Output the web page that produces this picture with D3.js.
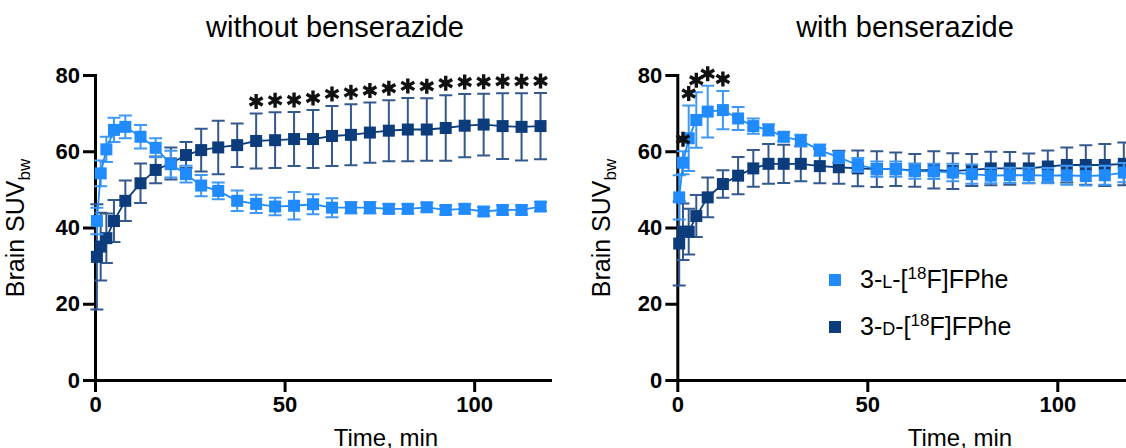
<!DOCTYPE html>
<html>
<head>
<meta charset="utf-8">
<script src="https://cdn.jsdelivr.net/npm/d3@7"></script>
<style>
  body { margin: 0; background: #fff; }
  svg { display: block; font-family: "Liberation Sans", Arial, sans-serif; }
</style>
</head>
<body>
<svg id="chart" width="1126" height="448"></svg>
<script>
// frame mid times, min
var times = [0.5, 1.5, 3, 5, 8, 12, 16, 20, 24, 28, 32.5, 37.5, 42.5, 47.5, 52.5, 57.5, 62.5, 67.5,
             72.5, 77.5, 82.5, 87.5, 92.5, 97.5, 102.5, 107.5, 112.5, 117.5];

// without benserazide
var noBenL = [41.7, 54.2, 60.5, 65.6, 66.4, 63.8, 60.9, 56.6, 54.0, 51.0, 49.6, 47.0, 46.2, 45.5, 45.7,
              46.1, 45.2, 45.2, 45.2, 44.9, 44.9, 45.3, 44.6, 44.9, 44.2, 44.6, 44.6, 45.5];
var noBenLsd = [3.5, 3.4, 3.3, 3.2, 3.0, 3.1, 2.5, 3.5, 2.2, 2.8, 2.2, 2.7, 2.4, 2.3, 3.6,
                2.6, 2.5, 1.5, 1.5, 1.2, 1.2, 1.2, 1.2, 1.2, 1.2, 1.2, 1.2, 1.2];
var noBenD = [32.3, 35.0, 37.2, 41.7, 47.0, 51.6, 55.1, 56.8, 59.0, 60.3, 61.0, 61.6, 62.7, 62.9, 63.2,
              63.2, 64.0, 64.3, 64.9, 65.4, 65.7, 65.7, 66.1, 66.7, 67.0, 66.6, 66.4, 66.6];
var noBenDsd = [13.8, 8.9, 6.5, 5.5, 5.3, 5.2, 3.5, 4.2, 3.4, 5.6, 7.0, 5.7, 7.2, 7.3, 7.1,
                7.6, 7.9, 8.0, 7.9, 8.0, 8.3, 8.2, 8.6, 8.3, 8.1, 8.6, 8.8, 8.7];
var noBenStars = [42.5, 47.5, 52.5, 57.5, 62.5, 67.5, 72.5, 77.5, 82.5, 87.5, 92.5, 97.5, 102.5, 107.5, 112.5, 117.5];

// with benserazide
var benL = [47.9, 57.0, 63.4, 68.2, 70.4, 70.8, 68.6, 66.6, 65.6, 63.8, 62.8, 60.3, 58.4, 56.4, 55.3,
            55.3, 54.8, 54.7, 54.4, 54.0, 53.6, 53.7, 53.7, 53.6, 53.7, 53.5, 53.7, 54.4];
var benLsd = [5.8, 3.0, 8.6, 7.3, 6.8, 5.0, 3.0, 2.0, 1.5, 1.2, 1.5, 1.5, 1.5, 1.8, 2.0,
              2.0, 2.0, 2.0, 2.3, 2.5, 2.0, 2.0, 2.0, 2.0, 2.5, 2.5, 2.5, 2.5];
var benD = [35.8, 38.9, 38.9, 43.0, 47.9, 51.4, 53.6, 55.5, 56.7, 56.7, 56.7, 56.1, 55.8, 55.5, 55.3,
            55.3, 55.0, 55.1, 54.8, 55.1, 55.5, 55.5, 55.5, 56.0, 56.4, 56.4, 56.4, 56.7];
var benDsd = [11.0, 7.4, 6.0, 5.5, 5.2, 3.6, 4.9, 4.8, 5.2, 5.0, 4.6, 4.5, 4.3, 4.7, 4.7,
              4.4, 4.3, 4.9, 4.7, 4.2, 4.4, 4.3, 3.9, 4.2, 4.6, 5.2, 5.5, 5.6];
var benStars = [1.5, 3, 5, 8, 12];

var yTicks = [0, 20, 40, 60, 80];
var xTicks = [0, 50, 100];

var colL = "#1f8bff", colD = "#0c3c7c";
var errL = "#3f98f4", errD = "#34598f";

var svg = d3.select("#chart");
var y = d3.scaleLinear().domain([0, 80]).range([380, 75]);

// 六角星号
var asterisk = {
    draw: function (ctx, size) {
        var r = Math.sqrt(size) / 2;
        for (var k = 0; k < 3; k++) {
            var a = Math.PI / 2 + k * Math.PI / 3;
            ctx.moveTo(r * Math.cos(a), -r * Math.sin(a));
            ctx.lineTo(-r * Math.cos(a), r * Math.sin(a));
        }
    }
};

function series(vals, sds) {
    return times.map((t, i) => ({ t: t, v: vals[i], sd: sds[i] }));
}

function panel(x, light, dark, stars, title, titleX, yLabX, xLabX, legend) {
    var g = svg.append("g");

    // 轴
    var ax = g.append("g")
        .attr("transform", `translate(0,${y(0)})`)
        .call(d3.axisBottom(x).tickValues(xTicks).tickSize(12).tickSizeOuter(0).tickPadding(4));
    var ay = g.append("g")
        .attr("transform", `translate(${x(0)},0)`)
        .call(d3.axisLeft(y).tickValues(yTicks).tickSize(12).tickSizeOuter(0).tickPadding(3));
    [ax, ay].forEach(a => {
        a.select(".domain").attr("stroke", "#000").attr("stroke-width", 3).attr("stroke-linecap", "square");
        a.selectAll(".tick line").attr("stroke", "#000").attr("stroke-width", 3);
        a.selectAll(".tick text").attr("fill", "#000").attr("font-size", 22).attr("font-weight", "bold")
            .attr("font-family", "Liberation Sans, Arial, sans-serif");
    });

    // 误差线 + 折线 + 方块
    var line = d3.line().x(d => x(d.t)).y(d => y(d.v));
    [[dark, colD, errD], [light, colL, errL]].forEach(([data, c, ec]) => {
        var eb = g.append("g").attr("stroke", ec).attr("stroke-width", 2).attr("fill", "none");
        data.forEach(d => {
            var x0 = x(d.t), y1 = y(d.v + d.sd), y2 = y(d.v - d.sd);
            eb.append("path").attr("d", `M${x0},${y1}V${y2}M${x0 - 6.5},${y1}H${x0 + 6.5}M${x0 - 6.5},${y2}H${x0 + 6.5}`);
        });
        g.append("path").datum(data).attr("d", line)
            .attr("fill", "none").attr("stroke", c).attr("stroke-width", 1.8);
        g.append("g").selectAll("rect").data(data).enter().append("rect")
            .attr("x", d => x(d.t) - 6).attr("y", d => y(d.v) - 6)
            .attr("width", 12).attr("height", 12).attr("fill", c);
    });

    // 显著性星号
    g.append("g").selectAll("path").data(stars).enter().append("path")
        .attr("d", d3.symbol().type(asterisk).size(225))
        .attr("transform", t => {
            var i = times.indexOf(t);
            var top = Math.max(light[i].v + light[i].sd, dark[i].v + dark[i].sd);
            return `translate(${x(t)},${y(top) - 12})`;
        })
        .attr("fill", "none").attr("stroke", "#111").attr("stroke-width", 3.4);

    // 标题
    g.append("text").attr("x", titleX).attr("y", 37).attr("text-anchor", "middle")
        .attr("font-size", 29).attr("fill", "#000").text(title);
    var yl = g.append("text")
        .attr("transform", `translate(${yLabX},228) rotate(-90)`)
        .attr("text-anchor", "middle").attr("font-size", 25).attr("fill", "#000");
    yl.append("tspan").text("Brain SUV");
    yl.append("tspan").attr("font-size", 17).attr("dy", 6).text("bw");
    g.append("text").attr("x", xLabX).attr("y", 446).attr("text-anchor", "middle")
        .attr("font-size", 24).attr("fill", "#000").text("Time, min");

    if (legend) {
        var items = [["L", colL], ["D", colD]];
        items.forEach(([iso, c], k) => {
            var yy = 280 + k * 47;
            g.append("rect").attr("x", 829).attr("y", yy - 6).attr("width", 12).attr("height", 12).attr("fill", c);
            var t = g.append("text").attr("x", 860).attr("y", yy + 8).attr("font-size", 25).attr("fill", "#000");
            t.append("tspan").text("3-");
            t.append("tspan").attr("font-size", 18).text(iso);
            t.append("tspan").text("-[");
            t.append("tspan").attr("font-size", 17).attr("dy", -9).text("18");
            t.append("tspan").attr("dy", 9).text("F]FPhe");
        });
    }
}

var xLeft = d3.scaleLinear().domain([0, 120]).range([95, 550]);
var xRight = d3.scaleLinear().domain([0, 120]).range([677.3, 1133.3]);

panel(xLeft, series(noBenL, noBenLsd), series(noBenD, noBenDsd), noBenStars,
      "without benserazide", 335, 24, 386, false);
panel(xRight, series(benL, benLsd), series(benD, benDsd), benStars,
      "with benserazide", 905, 610, 960, true);
</script>
</body>
</html>
